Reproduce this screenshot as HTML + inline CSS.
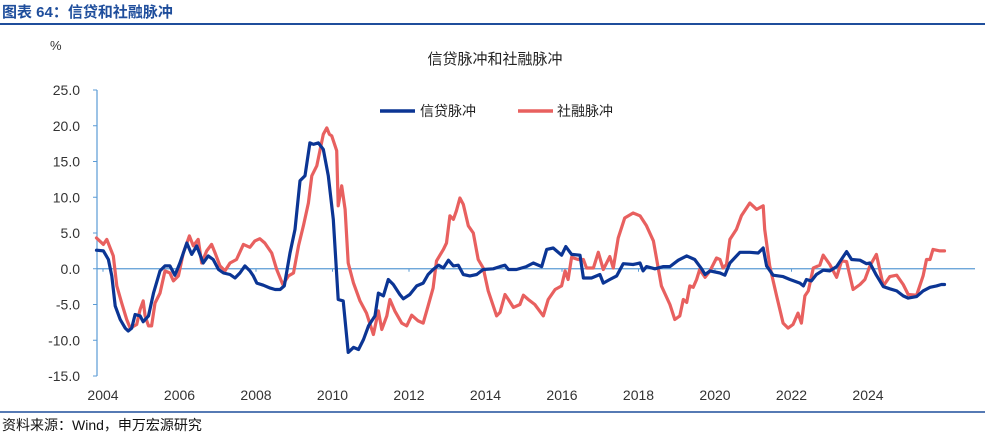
<!DOCTYPE html>
<html><head><meta charset="utf-8"><style>
body{margin:0;background:#fff;}
svg text{font-family:"Liberation Sans","Noto Sans CJK SC",sans-serif;}
</style></head><body>
<svg id="chart" width="985" height="436" viewBox="0 0 985 436" xmlns="http://www.w3.org/2000/svg">
<text x="2" y="17" font-size="15" font-weight="bold" fill="#1f4e9c">图表 64：信贷和社融脉冲</text>
<line x1="0" y1="24" x2="985" y2="24" stroke="#1f4e9c" stroke-width="2"/>
<text x="50" y="50" font-size="13" fill="#333">%</text>
<text x="495" y="64" font-size="15" fill="#222" text-anchor="middle">信贷脉冲和社融脉冲</text>
<g>
<line x1="380" y1="111" x2="415" y2="111" stroke="#0b3594" stroke-width="3.5"/>
<text x="420" y="116" font-size="14" fill="#222">信贷脉冲</text>
<line x1="518" y1="111" x2="553" y2="111" stroke="#e8605f" stroke-width="3.5"/>
<text x="557" y="116" font-size="14" fill="#222">社融脉冲</text>
</g>
<g id="axes"></g>
<g id="series"></g>
<line x1="0" y1="412" x2="985" y2="412" stroke="#1f4e9c" stroke-width="1.5"/>
<text x="2" y="430" font-size="14" fill="#111">资料来源：Wind，申万宏源研究</text>
</svg>
<script>
const yTicks=[25,20,15,10,5,0,-5,-10,-15];
const xTicks=[2004,2006,2008,2010,2012,2014,2016,2018,2020,2022,2024];
const creditDates=[2003.83,2004.01,2004.14,2004.23,2004.32,2004.45,2004.58,2004.66,2004.75,2004.84,2004.97,2005.05,2005.19,2005.32,2005.49,2005.62,2005.75,2005.88,2006.01,2006.19,2006.32,2006.45,2006.62,2006.75,2006.88,2007.02,2007.15,2007.32,2007.45,2007.58,2007.71,2007.84,2007.93,2008.02,2008.19,2008.37,2008.5,2008.63,2008.74,2008.89,2009.02,2009.15,2009.28,2009.41,2009.5,2009.63,2009.76,2009.89,2010.02,2010.15,2010.28,2010.41,2010.55,2010.68,2010.81,2010.94,2011.11,2011.2,2011.33,2011.46,2011.59,2011.76,2011.85,2012.02,2012.2,2012.37,2012.5,2012.63,2012.77,2012.9,2013.03,2013.16,2013.29,2013.42,2013.59,2013.77,2013.94,2014.2,2014.38,2014.51,2014.6,2014.81,2015.07,2015.25,2015.47,2015.6,2015.77,2015.99,2016.1,2016.25,2016.47,2016.56,2016.77,2016.99,2017.08,2017.25,2017.43,2017.6,2017.86,2018.04,2018.12,2018.21,2018.43,2018.65,2018.82,2019.04,2019.26,2019.47,2019.65,2019.74,2019.87,2020.13,2020.26,2020.39,2020.65,2020.91,2021.13,2021.26,2021.35,2021.52,2021.78,2021.96,2022.22,2022.31,2022.39,2022.52,2022.65,2022.83,2023.0,2023.18,2023.44,2023.57,2023.79,2023.96,2024.05,2024.22,2024.4,2024.57,2024.75,2024.92,2025.05,2025.27,2025.44,2025.62,2025.79,2025.92,2026.0];
const creditValues=[2.6,2.5,1.3,-1.0,-5.2,-7.1,-8.3,-8.7,-8.3,-6.4,-6.6,-7.4,-6.6,-3.4,-0.3,0.4,0.4,-0.9,0.8,3.6,2.0,3.2,0.8,1.8,1.3,-0.1,-0.6,-0.8,-1.3,-0.6,0.4,-0.3,-1.0,-2.0,-2.3,-2.7,-2.9,-2.9,-2.4,2.2,5.5,12.3,13.0,17.6,17.4,17.6,16.7,13.0,6.9,-4.3,-4.5,-11.7,-11.0,-11.3,-9.9,-8.0,-6.6,-3.4,-3.8,-1.5,-2.2,-3.6,-4.2,-3.6,-2.4,-2.0,-0.8,-0.1,0.5,0.1,1.2,0.4,0.5,-0.8,-1.0,-0.8,-0.1,0,0.3,0.5,-0.1,-0.1,0.3,0.8,0.3,2.7,2.9,1.9,3.1,2.0,1.9,-1.3,-1.3,-0.8,-2.0,-1.5,-1.0,0.7,0.6,0.8,-0.3,0.3,0,0.3,0.3,1.2,1.8,1.3,0,-0.8,-0.3,-0.6,-0.9,0.8,2.3,2.3,2.2,2.9,0.4,-0.9,-1.1,-1.5,-2.0,-2.4,-1.5,-1.7,-0.8,-0.2,-0.3,0.3,2.4,1.3,1.2,0.7,0.8,-0.9,-2.5,-2.8,-3.1,-3.8,-4.1,-3.9,-3.1,-2.6,-2.4,-2.2,-2.2];
const tsfDates=[2003.83,2004.01,2004.10,2004.27,2004.36,2004.49,2004.62,2004.71,2004.88,2004.97,2005.05,2005.1,2005.19,2005.27,2005.36,2005.49,2005.62,2005.75,2005.84,2005.97,2006.1,2006.26,2006.36,2006.49,2006.58,2006.71,2006.84,2006.93,2007.06,2007.19,2007.32,2007.49,2007.67,2007.84,2007.97,2008.1,2008.23,2008.41,2008.54,2008.7,2008.85,2008.98,2009.11,2009.24,2009.37,2009.46,2009.59,2009.76,2009.85,2009.92,2009.98,2010.11,2010.15,2010.24,2010.33,2010.41,2010.55,2010.72,2010.89,2011.07,2011.2,2011.29,2011.42,2011.5,2011.63,2011.81,2011.94,2012.07,2012.24,2012.37,2012.5,2012.63,2012.72,2012.9,2012.98,2013.07,2013.16,2013.24,2013.33,2013.42,2013.55,2013.68,2013.81,2013.94,2014.07,2014.29,2014.38,2014.51,2014.6,2014.73,2014.9,2014.99,2015.12,2015.29,2015.51,2015.64,2015.82,2015.99,2016.08,2016.16,2016.25,2016.42,2016.56,2016.64,2016.82,2016.95,2017.08,2017.25,2017.34,2017.47,2017.64,2017.86,2018.04,2018.21,2018.39,2018.6,2018.82,2018.95,2019.08,2019.17,2019.26,2019.34,2019.43,2019.52,2019.6,2019.74,2019.87,2020.04,2020.13,2020.21,2020.3,2020.39,2020.56,2020.69,2020.91,2021.09,2021.26,2021.3,2021.43,2021.61,2021.78,2021.91,2022.04,2022.17,2022.26,2022.35,2022.44,2022.57,2022.74,2022.83,2023.0,2023.18,2023.31,2023.44,2023.61,2023.79,2023.92,2024.05,2024.22,2024.4,2024.57,2024.75,2024.92,2025.05,2025.27,2025.44,2025.53,2025.62,2025.7,2025.88,2026.0];
const tsfValues=[4.3,3.4,4.1,1.8,-2.4,-4.8,-7.1,-8.3,-7.8,-5.7,-4.5,-6.6,-8.0,-8.0,-4.8,-3.4,-0.3,-0.6,-1.7,-1.0,2.2,4.6,3.2,4.1,0.8,2.5,3.4,2.2,0.4,-0.3,0.8,1.3,3.4,3.0,3.9,4.2,3.6,2.2,-0.1,-2.2,-1.0,-0.6,3.2,6.0,9.2,13.0,14.4,18.8,19.7,18.8,18.6,16.5,8.8,11.6,8.3,0.8,-2.0,-4.5,-6.2,-9.2,-5.9,-8.5,-6.6,-4.3,-5.9,-7.6,-8.0,-6.5,-7.3,-7.6,-5.2,-2.7,1.1,2.7,3.6,7.4,6.9,8.1,9.9,9.0,6.0,5.0,1.3,0.1,-3.1,-6.6,-6.1,-3.6,-4.3,-5.4,-5.0,-3.7,-4.3,-5.0,-6.6,-4.3,-2.9,-2.4,-0.3,-1.5,1.6,1.3,1.3,0.1,0.1,2.3,-0.1,1.7,0.1,4.3,7.1,7.8,7.4,6.0,3.9,-2.4,-5.0,-7.1,-6.6,-4.3,-4.7,-2.4,-2.6,-1.5,-0.1,-1.2,-0.3,1.5,1.3,0.1,0.6,4.1,5.5,7.4,9.2,8.3,8.8,5.5,0.4,-3.8,-7.6,-8.3,-7.8,-6.2,-7.6,-3.8,-3.1,0.1,0.5,1.9,0.6,-1.2,1.1,1.0,-2.9,-2.2,-1.5,0.4,2.0,-2.4,-1.1,-0.9,-2.2,-3.6,-3.7,-1.0,1.3,1.3,2.7,2.5,2.5];

const NS="http://www.w3.org/2000/svg";
const X0=103, PXYR=38.25, Y0=268.75, PXU=7.15, PLOTL=97, PLOTR=975;
function xs(yr){return X0+(yr-2004)*PXYR;}
function ys(v){return Y0-v*PXU;}
const axes=document.getElementById('axes');
const series=document.getElementById('series');
function mk(tag,attrs,parent){const e=document.createElementNS(NS,tag);for(const k in attrs)e.setAttribute(k,attrs[k]);parent.appendChild(e);return e;}

const yAxis=mk('line',{x1:PLOTL,y1:ys(25),x2:PLOTL,y2:ys(-15),stroke:'#5b9bd5','stroke-width':1.2},axes);


yTicks.forEach(v=>{
  const t=mk('line',{x1:PLOTL-4,y1:ys(v),x2:PLOTL,y2:ys(v),stroke:'#5b9bd5','stroke-width':1},axes);
  
  
  const l=mk('text',{x:80,y:ys(v)+5,'font-size':14,fill:'#333','text-anchor':'end'},axes);
  l.textContent=v.toFixed(1);
  
  
});
const zero=mk('line',{x1:PLOTL,y1:ys(0),x2:PLOTR,y2:ys(0),stroke:'#5b9bd5','stroke-width':1.2},axes);


xTicks.forEach(yr=>{
  const t=mk('line',{x1:xs(yr),y1:ys(0),x2:xs(yr),y2:ys(0)+3,stroke:'#5b9bd5','stroke-width':1},axes);
  
  
  const l=mk('text',{x:xs(yr),y:400,'font-size':14,fill:'#333','text-anchor':'middle'},axes);
  l.textContent=String(yr);
  
  
});
function line(dates,vals,color){
  return mk('polyline',{points:dates.map((d,i)=>xs(d).toFixed(1)+','+ys(vals[i]).toFixed(1)).join(' '),fill:'none',stroke:color,'stroke-width':3.2,'stroke-linejoin':'round','stroke-linecap':'round'},series);
}
const tsfLine=line(tsfDates,tsfValues,'#e8605f');


const creditLine=line(creditDates,creditValues,'#0b3594');


</script>
</body></html>
